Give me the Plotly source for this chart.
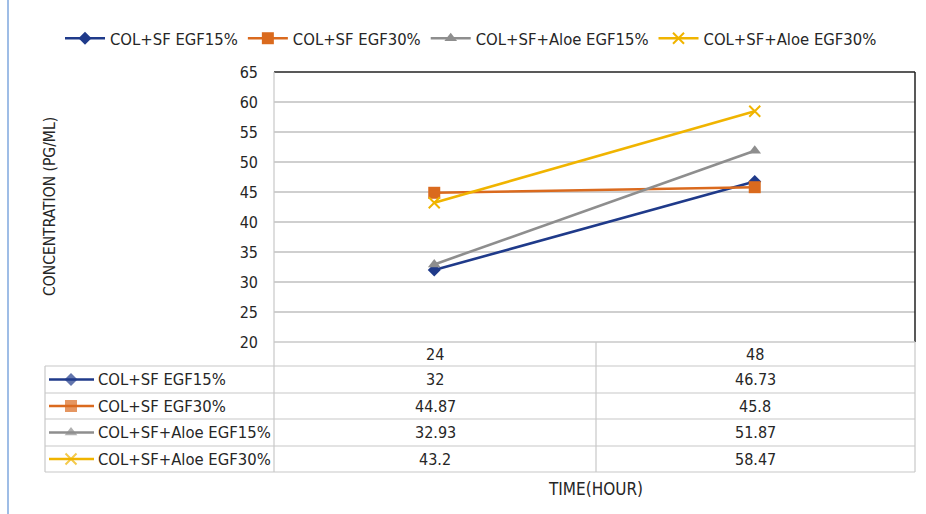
import plotly.graph_objects as go

# Sampling times (hours) and EGF concentration (pg/mL) per formulation
times = ["24", "48"]
series_names = ["COL+SF EGF15%", "COL+SF EGF30%", "COL+SF+Aloe EGF15%", "COL+SF+Aloe EGF30%"]
col_sf_egf15 = [32, 46.73]
col_sf_egf30 = [44.87, 45.8]
col_sf_aloe_egf15 = [32.93, 51.87]
col_sf_aloe_egf30 = [43.2, 58.47]
y_ticks = [20, 25, 30, 35, 40, 45, 50, 55, 60, 65]

values = [col_sf_egf15, col_sf_egf30, col_sf_aloe_egf15, col_sf_aloe_egf30]
colors = ["#1F3A8A", "#DA6A1E", "#8E8E8E", "#F0B400"]
symbols = ["diamond", "square", "triangle-up", "x-thin-open"]
msizes = [10, 12, 11, 11]

W, H = 926, 514
FONT = "DejaVu Sans Condensed, Liberation Sans Narrow, Liberation Sans, sans-serif"
TXT = "#262626"

# plot area in pixels
PL, PR, PT, PB = 274, 915, 72, 342

fig = go.Figure()

for name, vals, c, s, ms in zip(series_names, values, colors, symbols, msizes):
    fig.add_trace(go.Scatter(
        x=times, y=vals, name=name, mode="lines+markers",
        line=dict(color=c, width=2.6),
        marker=dict(symbol=s, size=ms, color=c,
                    line=dict(color=c, width=2 if s.startswith("x") else 0)),
        xaxis="x", yaxis="y",
    ))

# data table below the plot, drawn on a pixel-unit helper axis
row_lines = [366, 393, 419, 446, 472]
shapes = []
gcol = "#C8C8C8"


def seg(x0, y0, x1, y1, color, width):
    shapes.append(dict(type="line", xref="x2", yref="y2", x0=x0, x1=x1, y0=y0, y1=y1,
                       line=dict(color=color, width=width)))


# plot frame
seg(PL, PT, PR, PT, "#222", 1.5)
seg(PR, PT, PR, PB, "#222", 1.5)
seg(PL, PT, PL, PB, gcol, 1.2)
# table grid
seg(PL, PB, PR, PB, gcol, 1.5)
for yl in row_lines:
    seg(45, yl, PR, yl, gcol, 1.2)
seg(PL, PB, PL, row_lines[-1], gcol, 1.2)
seg(45, row_lines[0], 45, row_lines[-1], gcol, 1.2)
seg(596, PB, 596, row_lines[-1], gcol, 1.2)
seg(PR, PB, PR, row_lines[-1], gcol, 1.2)
# outer chart frame edge on the left
seg(8, 0, 8, H, "#7FA7DE", 1.5)

annotations = []
col_centers = [435, 755]
for t, cx in zip(times, col_centers):
    annotations.append(dict(xref="x2", yref="y2", x=cx, y=(PB + row_lines[0]) / 2, text=t,
                            showarrow=False, font=dict(family=FONT, size=16, color=TXT)))
for r, (name, vals, c, s, ms) in enumerate(zip(series_names, values, colors, symbols, msizes)):
    yc = (row_lines[r] + row_lines[r + 1]) / 2
    fig.add_trace(go.Scatter(
        x=[49, 71, 94], y=[yc, yc, yc], mode="lines+markers", showlegend=False, hoverinfo="skip",
        line=dict(color=c, width=2.6),
        marker=dict(symbol=s, size=[0, ms, 0], color=c,
                    line=dict(color=c, width=2 if s.startswith("x") else 0)),
        xaxis="x2", yaxis="y2",
    ))
    annotations.append(dict(xref="x2", yref="y2", x=96, y=yc, xanchor="left", text=name,
                            showarrow=False, font=dict(family=FONT, size=16.5, color=TXT)))
    for v, cx in zip(vals, col_centers):
        annotations.append(dict(xref="x2", yref="y2", x=cx, y=yc, text=str(v),
                                showarrow=False, font=dict(family=FONT, size=16, color=TXT)))

annotations.append(dict(xref="x2", yref="y2", x=595, y=489, text="TIME(HOUR)", showarrow=False,
                        font=dict(family=FONT, size=17, color=TXT)))
annotations.append(dict(xref="x2", yref="y2", x=50, y=207, text="CONCENTRATION (PG/ML)", textangle=-90,
                        showarrow=False, font=dict(family=FONT, size=15.5, color=TXT)))

fig.update_layout(
    width=W, height=H,
    margin=dict(l=0, r=0, t=0, b=0, autoexpand=False),
    paper_bgcolor="white", plot_bgcolor="rgba(0,0,0,0)",
    font=dict(family=FONT, color=TXT),
    showlegend=True,
    legend=dict(orientation="h", x=60 / W, y=1 - 21 / H, xanchor="left", yanchor="top",
                font=dict(family=FONT, size=16.5, color=TXT), bgcolor="rgba(0,0,0,0)",
                itemwidth=40, tracegroupgap=0),
    xaxis=dict(domain=[PL / W, PR / W], type="category", range=[-0.5, 1.5],
               showticklabels=False, showgrid=False, zeroline=False, showline=False, ticks=""),
    yaxis=dict(domain=[1 - PB / H, 1 - PT / H], range=[20, 65], tickvals=y_ticks,
               showgrid=True, gridcolor="#CFCFCF", gridwidth=1.5, zeroline=False, showline=False,
               ticks="", ticklabelstandoff=15, tickfont=dict(family=FONT, size=16, color=TXT)),
    xaxis2=dict(domain=[0, 1], range=[0, W], visible=False, anchor="y2"),
    yaxis2=dict(domain=[0, 1], range=[H, 0], visible=False, anchor="x2"),
    shapes=shapes, annotations=annotations,
)

fig.write_html("out.html")
